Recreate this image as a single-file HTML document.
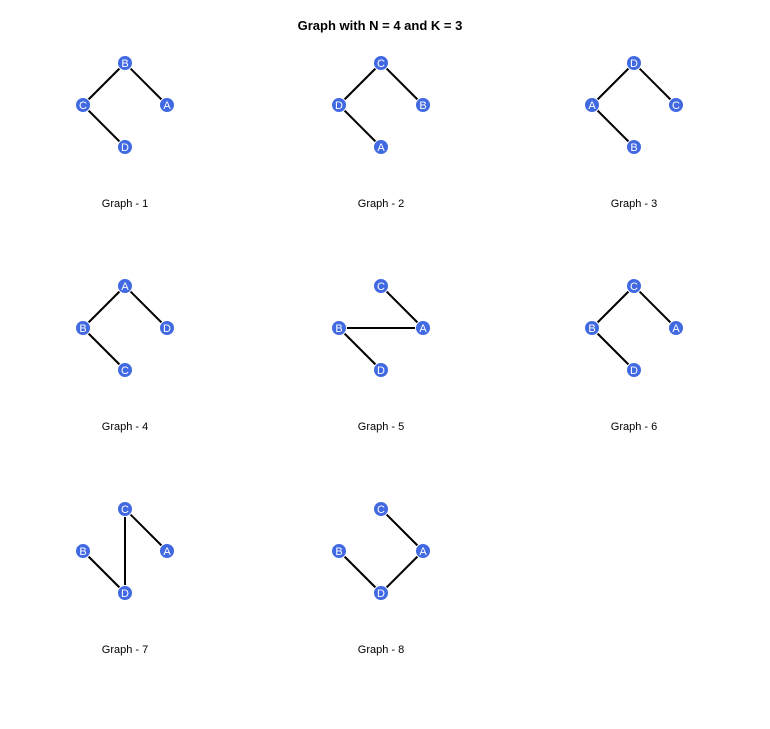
<!DOCTYPE html>
<html><head><meta charset="utf-8"><style>
html,body{margin:0;padding:0;background:#fff;}
svg{display:block;font-family:"Liberation Sans",sans-serif;}
</style></head><body>
<svg id="c" width="770" height="729">
<text x="380" y="30" text-anchor="middle" font-size="13" font-weight="bold">Graph with N = 4 and K = 3</text>
</svg>
<script>
const graphTitles = ["Graph - 1","Graph - 2","Graph - 3","Graph - 4","Graph - 5","Graph - 6","Graph - 7","Graph - 8"];
// node labels at positions [top,left,right,bottom]
const nodeLayouts = [["B","C","A","D"],["C","D","B","A"],["D","A","C","B"],["A","B","D","C"],["C","B","A","D"],["C","B","A","D"],["C","B","A","D"],["C","B","A","D"]];
const edgeLists = [
 [["B","C"],["B","A"],["C","D"]],
 [["C","D"],["C","B"],["D","A"]],
 [["D","A"],["D","C"],["A","B"]],
 [["A","B"],["A","D"],["B","C"]],
 [["C","A"],["B","A"],["B","D"]],
 [["C","B"],["C","A"],["B","D"]],
 [["C","A"],["C","D"],["B","D"]],
 [["C","A"],["B","D"],["D","A"]]
];
const svg=document.getElementById('c');
const NS='http://www.w3.org/2000/svg';
const colX=[125,381,634], rowY=[105,328,551], R=42;
const offs=[[0,-1],[-1,0],[1,0],[0,1]];
function mk(t,a){const e=document.createElementNS(NS,t);for(const k in a)e.setAttribute(k,a[k]);svg.appendChild(e);return e;}
graphTitles.forEach((title,i)=>{
 const cx=colX[i%3], cy=rowY[Math.floor(i/3)];
 const pos={};
 nodeLayouts[i].forEach((n,j)=>{pos[n]=[cx+offs[j][0]*R, cy+offs[j][1]*R];});
 edgeLists[i].forEach(([a,b])=>{
  const l=mk('line',{x1:pos[a][0],y1:pos[a][1],x2:pos[b][0],y2:pos[b][1],stroke:'#000','stroke-width':2});
  
  
 });
 nodeLayouts[i].forEach(n=>{
  const c=mk('circle',{cx:pos[n][0],cy:pos[n][1],r:7.5,fill:'#4169E1',stroke:'#fff','stroke-width':1});
  
  
  const t=mk('text',{x:pos[n][0],y:pos[n][1]+4,'text-anchor':'middle','font-size':11,fill:'#fff'});
  t.textContent=n;
  
  
 });
 const lab=mk('text',{x:cx,y:cy+102,'text-anchor':'middle','font-size':11,fill:'#000'});
 lab.textContent=title;
 
 
});
</script>
</body></html>
